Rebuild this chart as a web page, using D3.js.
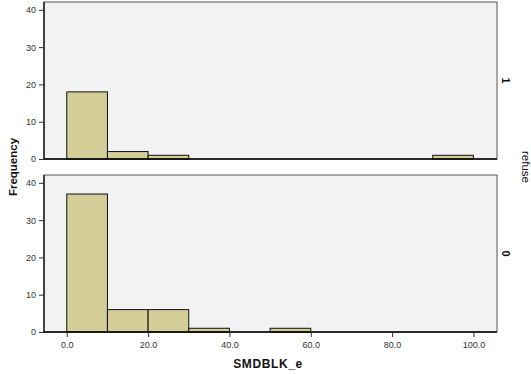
<!DOCTYPE html>
<html>
<head>
<meta charset="utf-8">
<script src="https://cdn.jsdelivr.net/npm/d3@7"></script>
<style>
  body { margin: 0; background: #fff; }
  svg { display: block; font-family: "Liberation Sans", Arial, sans-serif; }
</style>
</head>
<body>
<svg id="chart" width="531" height="374"></svg>
<script>
// Histogram bins of SMDBLK_e (width 10), split by refuse
const binStarts = [0, 10, 20, 30, 40, 50, 60, 70, 80, 90];
const binWidth = 10;
const panels = ["1", "0"];
const countsRefuse1 = [18, 2, 1, 0, 0, 0, 0, 0, 0, 1];
const countsRefuse0 = [37, 6, 6, 1, 0, 1, 0, 0, 0, 0];
const xTicks = [0, 20, 40, 60, 80, 100];
const yTicks = [0, 10, 20, 30, 40];

const countsByPanel = { "1": countsRefuse1, "0": countsRefuse0 };

const svg = d3.select("#chart");
const left = 44, right = 497;
const panelBoxes = [
  { key: panels[0], top: 2, bottom: 159 },
  { key: panels[1], top: 175, bottom: 332 }
];

const x = d3.scaleLinear().domain([-5.6, 105.8]).range([left, right]);

panelBoxes.forEach((p, i) => {
  const y = d3.scaleLinear().domain([0, 42.1]).range([p.bottom, p.top]);
  const g = svg.append("g");

  g.append("rect")
    .attr("x", left).attr("y", p.top)
    .attr("width", right - left).attr("height", p.bottom - p.top)
    .attr("fill", "#f2f2f2")
    .attr("stroke", "#555").attr("stroke-width", 1);

  const bins = binStarts.map((s, j) => ({ x0: s, x1: s + binWidth, n: countsByPanel[p.key][j] }))
    .filter(d => d.n > 0);

  g.selectAll("rect.bar").data(bins).enter().append("rect")
    .attr("class", "bar")
    .attr("x", d => x(d.x0))
    .attr("y", d => y(d.n))
    .attr("width", d => x(d.x1) - x(d.x0))
    .attr("height", d => y(0) - y(d.n))
    .attr("fill", "#d3ce98")
    .attr("stroke", "#111").attr("stroke-width", 1);

  // left and bottom axis lines
  g.append("line").attr("x1", left).attr("x2", left).attr("y1", p.top).attr("y2", p.bottom)
    .attr("stroke", "#000").attr("stroke-width", 1.2);
  g.append("line").attr("x1", left).attr("x2", right).attr("y1", p.bottom).attr("y2", p.bottom)
    .attr("stroke", "#000").attr("stroke-width", 1.5);

  const yAxis = g.append("g").attr("transform", `translate(${left},0)`)
    .call(d3.axisLeft(y).tickValues(yTicks).tickSize(5).tickPadding(3).tickFormat(d3.format("d")));
  yAxis.select(".domain").remove();
  yAxis.selectAll("line").attr("stroke", "#333");
  yAxis.selectAll("text").attr("font-size", 9).attr("fill", "#333");

  if (i === panelBoxes.length - 1) {
    const xAxis = g.append("g").attr("transform", `translate(0,${p.bottom})`)
      .call(d3.axisBottom(x).tickValues(xTicks).tickSize(5).tickPadding(5).tickFormat(d3.format(".1f")));
    xAxis.select(".domain").remove();
    xAxis.selectAll("line").attr("stroke", "#333");
    xAxis.selectAll("text").attr("font-size", 9).attr("fill", "#333");
  }

  // panel label on the right
  const cy = (p.top + p.bottom) / 2;
  svg.append("text")
    .attr("transform", `translate(506,${cy}) rotate(90)`)
    .attr("text-anchor", "middle").attr("dy", "0.35em")
    .attr("font-size", 11).attr("font-weight", "bold").attr("fill", "#111")
    .text(p.key);
});

svg.append("text")
  .attr("transform", "translate(13,167) rotate(-90)")
  .attr("text-anchor", "middle").attr("dy", "0.35em")
  .attr("font-size", 11.5).attr("font-weight", "bold").attr("fill", "#111")
  .text("Frequency");

svg.append("text")
  .attr("transform", "translate(526,167) rotate(90)")
  .attr("text-anchor", "middle").attr("dy", "0.35em")
  .attr("font-size", 11.5).attr("fill", "#111")
  .text("refuse");

svg.append("text")
  .attr("x", 268).attr("y", 368)
  .attr("text-anchor", "middle")
  .attr("font-size", 12).attr("font-weight", "bold").attr("fill", "#111")
  .attr("letter-spacing", 0.6)
  .text("SMDBLK_e");
</script>
</body>
</html>
